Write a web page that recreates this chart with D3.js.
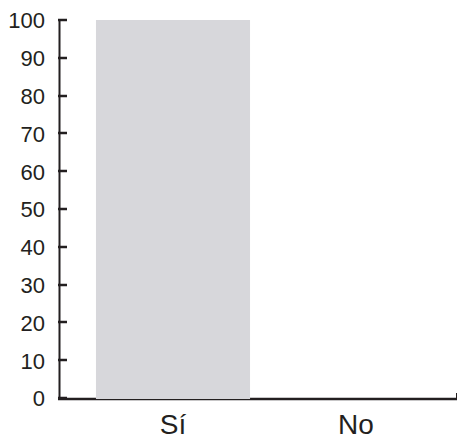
<!DOCTYPE html>
<html><head><meta charset="utf-8">
<script src="https://cdn.jsdelivr.net/npm/d3@7"></script>
<style>body{margin:0;background:#fff}svg{display:block}</style>
</head><body>
<script>
const categories = ["Sí", "No"];
const values = [100, 0];
const yTicks = [0, 10, 20, 30, 40, 50, 60, 70, 80, 90, 100];

const W = 458, H = 440;
const svg = d3.select("body").append("svg").attr("width", W).attr("height", H);
const ink = "#231f20";
const font = "Liberation Sans, Arial, Helvetica, sans-serif";

const y = d3.scaleLinear().domain([0, 100]).range([398, 20]);
const x = d3.scaleBand().domain(categories).range([81.5, 447.5]).paddingInner(0.158).paddingOuter(0.079);

// y axis
const yAxis = d3.axisLeft(y).tickValues(yTicks).tickSize(0).tickSizeOuter(0).tickPadding(14).tickFormat(d3.format("d"));
const gy = svg.append("g").attr("transform", "translate(59,0)").call(yAxis);
gy.select(".domain").attr("stroke", ink).attr("stroke-width", 2);
gy.selectAll(".tick text")
  .attr("font-family", font).attr("font-size", 22).attr("fill", ink).attr("dy", "0.36em");
// inward tick marks
svg.append("g").selectAll("line").data(yTicks).enter().append("line")
  .attr("x1", 58).attr("x2", 67)
  .attr("y1", d => Math.round(y(d))).attr("y2", d => Math.round(y(d)))
  .attr("stroke", ink).attr("stroke-width", 2.5);

// x axis
const xAxis = d3.axisBottom(x).tickSize(0).tickSizeOuter(0);
const gx = svg.append("g").attr("transform", "translate(0,399)").call(xAxis);
gx.select(".domain").remove();
svg.append("line").attr("x1", 58).attr("x2", 457).attr("y1", 399).attr("y2", 399)
  .attr("stroke", ink).attr("stroke-width", 2.5);
svg.append("line").attr("x1", 456.5).attr("x2", 456.5).attr("y1", 399).attr("y2", 393)
  .attr("stroke", ink).attr("stroke-width", 1);
gx.selectAll(".tick text").attr("y", 35).attr("dy", 0)
  .attr("font-family", font).attr("font-size", 28).attr("fill", ink);

// bars (drawn over the baseline, as in the reference)
svg.selectAll("rect.bar").data(values).enter().append("rect")
  .attr("class", "bar")
  .attr("x", (d, i) => x(categories[i]))
  .attr("width", x.bandwidth())
  .attr("y", d => y(d))
  .attr("height", d => d > 0 ? y(0) - y(d) + 1 : 0)
  .attr("fill", "#d7d7db");
</script>
</body></html>
